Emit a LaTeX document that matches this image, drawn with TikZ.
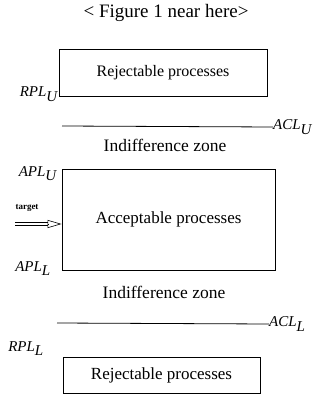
\documentclass[tikz,border=0pt]{standalone}
\usepackage{fontspec}
\setmainfont{Liberation Serif}
\usepackage{tikz}
\usetikzlibrary{arrows.meta,positioning}

\begin{document}
\begin{tikzpicture}[x=1pt, y=-1pt,
    box/.style={rectangle, draw, line width=0.8pt, inner sep=0pt, font=\fontsize{17}{19}\selectfont},
    lim/.style={inner sep=0pt, font=\fontsize{15}{17}\selectfont\itshape},
    zone/.style={inner sep=0pt, font=\fontsize{17.5}{19}\selectfont}
]
    \useasboundingbox (0,0) rectangle (320,398);
    \node[inner sep=0pt, font=\fontsize{19}{21}\selectfont] (title) at (166,13) {< Figure 1 near here>};

    \node[box, minimum width=208pt, minimum height=47pt, font=\fontsize{16}{18}\selectfont] (rejU) at (163,72.5) {Rejectable processes};
    \node[box, minimum width=213pt, minimum height=101pt] (acc) at (168.5,219.5) {Acceptable processes};
    \node[box, minimum width=197pt, minimum height=36pt] (rejL) at (161.5,375) {Rejectable processes};

    \node[zone] (indU) at (165,145) {Indifference zone};
    \node[zone] (indL) at (164,292) {Indifference zone};

    \node[lim, anchor=base east] (rplu) at (58,97) {RPL$_{\textit{U}}$};
    \node[lim, anchor=base east] (aplu) at (57,176) {APL$_{\textit{U}}$};
    \node[lim, anchor=base east] (apll) at (51,271) {APL$_{\textit{L}}$};
    \node[lim, anchor=base east] (rpll) at (44,351) {RPL$_{\textit{L}}$};

    % control limits
    \coordinate (aclU-w) at (62,126);
    \node[lim, anchor=west] (aclU) at (273,127) {ACL$_{\textit{U}}$};
    \draw[line width=0.8pt] (aclU-w) -- (aclU.west);
    \coordinate (aclL-w) at (57,323);
    \node[lim, anchor=west] (aclL) at (269,324) {ACL$_{\textit{L}}$};
    \draw[line width=0.8pt] (aclL-w) -- (aclL.west);

    % target
    \node[inner sep=0pt, font=\fontsize{9}{10}\selectfont\bfseries] (tgtlab) at (27,208) {target};
    \coordinate (tgt) at (15,224);
    \coordinate (tip) at (tgt -| acc.west);
    \coordinate (base) at ([xshift=-14pt]tip);
    \draw[double, double distance=2.4pt, line width=0.6pt] (tgt) -- (base);
    \draw[line width=0.6pt, -{Triangle[open, length=14pt, width=8pt]}] (base) -- (tip);
\end{tikzpicture}
\end{document}
